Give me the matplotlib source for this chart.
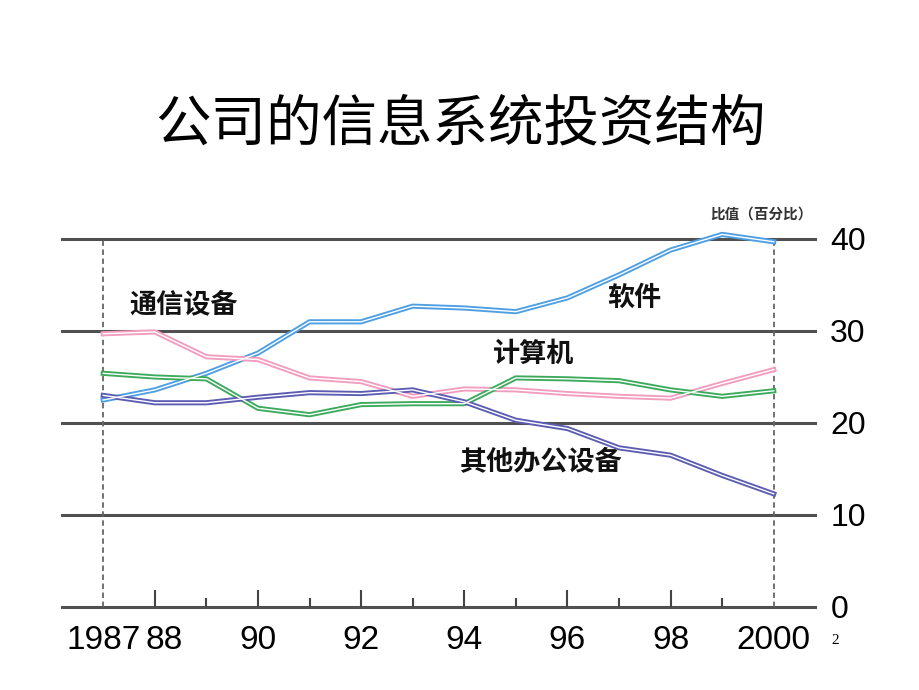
import matplotlib
matplotlib.use('Agg')
import matplotlib.pyplot as plt

plt.rcParams['font.family'] = ['Noto Sans CJK SC', 'DejaVu Sans']

# data (percent share per year)
years = list(range(1987, 2001))
software = [22.5, 23.6, 25.4, 27.6, 31.0, 31.0, 32.7, 32.5, 32.1, 33.6, 36.1, 38.8, 40.5, 39.7]
telecom = [29.7, 29.9, 27.2, 26.9, 24.9, 24.5, 22.9, 23.7, 23.6, 23.2, 22.9, 22.7, 24.3, 25.8]
computers = [25.4, 25.0, 24.8, 21.6, 20.9, 22.0, 22.1, 22.1, 24.9, 24.8, 24.6, 23.6, 22.9, 23.5]
other_office = [23.0, 22.2, 22.2, 22.8, 23.3, 23.2, 23.6, 22.3, 20.3, 19.4, 17.3, 16.5, 14.3, 12.3]

xtick_years = [1987, 1988, 1990, 1992, 1994, 1996, 1998, 2000]
xtick_labels = ['1987', '88', '90', '92', '94', '96', '98', '2000']
minor_years = [1989, 1991, 1993, 1995, 1997, 1999]
yticks = [0, 10, 20, 30, 40]

title = '公司的信息系统投资结构'
unit_label = '比值（百分比）'

series = [
    (software, '#4d9fe3', '软件', 1997.3, 33.6),
    (telecom, '#f29cbf', '通信设备', 1988.55, 32.9),
    (computers, '#3caa5c', '计算机', 1995.35, 27.5),
    (other_office, '#5b5cb2', '其他办公设备', 1995.5, 15.8),
]

fig = plt.figure(figsize=(9.2, 6.9), dpi=100)
ax = fig.add_axes([62 / 920, 83 / 690, 753 / 920, 368 / 690])
ax.set_xlim(1986.2, 2000.8)
ax.set_ylim(0, 40)

for s in ax.spines.values():
    s.set_visible(False)

# horizontal rules
for v in yticks:
    ax.axhline(v, color='#505050', lw=2.2, clip_on=False, zorder=1)

# dashed start/end markers
for yr in (years[0], years[-1]):
    ax.axvline(yr, color='#666666', lw=1.3, ls=(0, (3, 2)), zorder=1)

# double-stroke lines (coloured edge, white core)
for vals, col, name, tx, ty in series:
    ax.plot(years, vals, color=col, lw=3.7, solid_joinstyle='round',
            zorder=3, clip_on=False)
    ax.plot(years, vals, color='white', lw=1.0, solid_joinstyle='round',
            zorder=4, clip_on=False)
    ax.text(tx, ty, name, fontsize=19.5, fontweight='bold', color='#111111',
            ha='center', va='center', zorder=5)

# axes ticks
ax.yaxis.tick_right()
ax.set_yticks(yticks)
ax.set_yticklabels([str(v) for v in yticks], fontsize=23,
                   fontfamily='Liberation Sans')
ax.tick_params(axis='y', length=0, pad=11)

ax.set_xticks(xtick_years)
ax.set_xticks(minor_years, minor=True)
# the "88" label sits a little right of its tick, drawn separately below
shown = [lab if i != 1 else '' for i, lab in enumerate(xtick_labels)]
ax.set_xticklabels(shown, fontsize=24, fontfamily='Liberation Sans')
ax.tick_params(axis='x', which='major', direction='in', length=12, width=1.5,
               color='#444444', pad=13)
ax.tick_params(axis='x', which='minor', direction='in', length=6.5, width=1.5,
               color='#444444')
ticks = ax.xaxis.get_major_ticks()
ticks[0].tick1line.set_visible(False)
ticks[-1].tick1line.set_visible(False)
ax.annotate(xtick_labels[1], xy=(xtick_years[1], 0),
            xycoords=('data', 'axes fraction'), xytext=(7, -13),
            textcoords='offset points', ha='center', va='top',
            fontsize=24, fontfamily='Liberation Sans')

fig.text(0.5, 1 - 125 / 690, title, fontsize=40, ha='center', va='center',
         color='black')
fig.text(761 / 920, 1 - 214 / 690, unit_label, fontsize=10.5,
         fontweight='bold', ha='center', va='center', color='#333333')
fig.text(835 / 920, 1 - 640 / 690, '2', fontsize=11, ha='center',
         va='center', fontfamily='Liberation Serif')

fig.savefig('out.png', dpi=100)
